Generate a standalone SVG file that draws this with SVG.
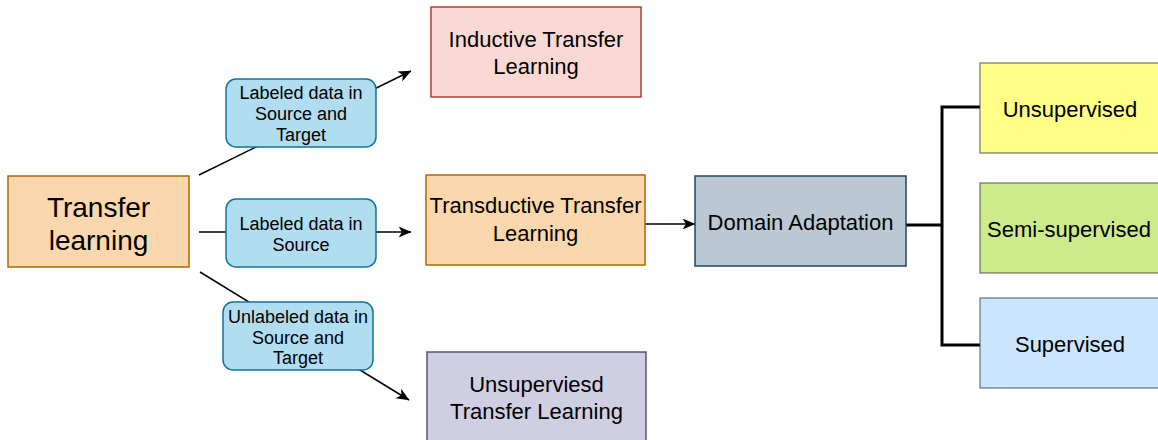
<svg xmlns="http://www.w3.org/2000/svg" width="1158" height="440" viewBox="0 0 1158 440">
  <defs>
    <marker id="arrow" viewBox="0 0 13 12" refX="12.5" refY="6" markerWidth="13" markerHeight="12" markerUnits="userSpaceOnUse" orient="auto">
      <path d="M0,0.5 L13,6 L0,11.5 L3.5,6 z" fill="#000"/>
    </marker>
    <style>
      text { font-family: "Liberation Sans", Arial, sans-serif; fill: #000; text-anchor: middle; }
      .big { font-size: 28px; }
      .node { font-size: 22px; }
      .lbl { font-size: 18px; }
      .edge { stroke: #000; stroke-width: 1.5; fill: none; }
      .tree { stroke: #000; stroke-width: 3; fill: none; }
      .cond { fill: #b1ddf0; stroke: #10739e; stroke-width: 1.5; }
    </style>
  </defs>

  <!-- connectors -->
  <g id="connectors">
    <line class="edge" x1="199" y1="175" x2="411" y2="71" marker-end="url(#arrow)"/>
    <line class="edge" x1="199" y1="232" x2="411" y2="232" marker-end="url(#arrow)"/>
    <line class="edge" x1="200" y1="272" x2="409" y2="400" marker-end="url(#arrow)"/>
    <line class="edge" x1="645" y1="224" x2="695" y2="224" marker-end="url(#arrow)"/>
    <path class="tree" d="M906,225 H942 M980,107 H942 V345 H980"/>
  </g>

  <g id="transfer-learning">
    <rect x="8" y="176" width="181" height="91" fill="#fad7ac" stroke="#b46504" stroke-width="1.5"/>
    <text class="big" x="98.5" y="216.7">Transfer</text>
    <text class="big" x="98.5" y="250">learning</text>
  </g>

  <g id="label-inductive">
    <rect class="cond" x="226" y="79" width="150" height="68" rx="10"/>
    <text class="lbl" x="301" y="99.3">Labeled data in</text>
    <text class="lbl" x="301" y="120">Source and</text>
    <text class="lbl" x="301" y="141">Target</text>
  </g>

  <g id="label-transductive">
    <rect class="cond" x="226" y="199" width="150" height="68" rx="10"/>
    <text class="lbl" x="301" y="230">Labeled data in</text>
    <text class="lbl" x="301" y="250.7">Source</text>
  </g>

  <g id="label-unsupervised">
    <rect class="cond" x="223" y="302" width="150" height="68" rx="10"/>
    <text class="lbl" x="298" y="323.3">Unlabeled data in</text>
    <text class="lbl" x="298" y="344">Source and</text>
    <text class="lbl" x="298" y="364.3">Target</text>
  </g>

  <g id="inductive">
    <rect x="431" y="7" width="210" height="90" fill="#fad9d5" stroke="#ae4132" stroke-width="1.5"/>
    <text class="node" x="536" y="46.7">Inductive Transfer</text>
    <text class="node" x="536" y="74">Learning</text>
  </g>

  <g id="transductive">
    <rect x="426" y="175" width="219" height="90" fill="#fad7ac" stroke="#b46504" stroke-width="1.5"/>
    <text class="node" x="535.5" y="213.3">Transductive Transfer</text>
    <text class="node" x="535.5" y="240.7">Learning</text>
  </g>

  <g id="unsupervised-transfer">
    <rect x="427" y="352" width="219" height="90" fill="#d0cee2" stroke="#56517e" stroke-width="1.5"/>
    <text class="node" x="536.5" y="392">Unsuperviesd</text>
    <text class="node" x="536.5" y="419">Transfer Learning</text>
  </g>

  <g id="domain-adaptation">
    <rect x="695" y="176" width="211" height="90" fill="#bac8d3" stroke="#23445d" stroke-width="1.5"/>
    <text class="node" x="800.5" y="230">Domain Adaptation</text>
  </g>

  <g id="unsupervised">
    <rect x="980" y="63" width="180" height="90" fill="#ffff88" stroke="#36393d" stroke-width="1.2" stroke-opacity="0.7"/>
    <text class="node" x="1070" y="116.7">Unsupervised</text>
  </g>

  <g id="semi-supervised">
    <rect x="980" y="183" width="180" height="90" fill="#cdeb8b" stroke="#36393d" stroke-width="1.2" stroke-opacity="0.7"/>
    <text class="node" x="1069" y="236.7">Semi-supervised</text>
  </g>

  <g id="supervised">
    <rect x="980" y="298" width="180" height="90" fill="#cce5ff" stroke="#36393d" stroke-width="1.2" stroke-opacity="0.7"/>
    <text class="node" x="1070" y="351.7">Supervised</text>
  </g>
</svg>
